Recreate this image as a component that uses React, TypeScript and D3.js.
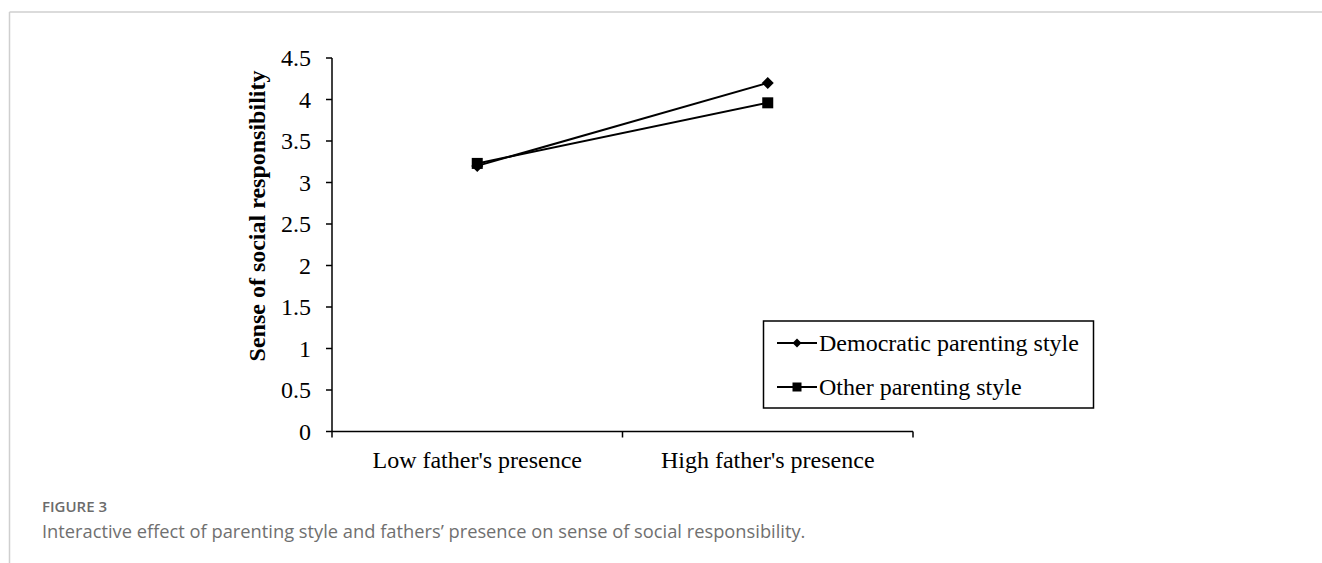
import React from "react";
import * as d3 from "d3";

const categories = ["Low father's presence", "High father's presence"];
const seriesNames = ["Democratic parenting style", "Other parenting style"];
const democraticValues = [3.2, 4.2];
const otherValues = [3.23, 3.96];
const yTicks = [0, 0.5, 1, 1.5, 2, 2.5, 3, 3.5, 4, 4.5];
const yTitle = "Sense of social responsibility";
const figureLabel = "FIGURE 3";
const captionText = "Interactive effect of parenting style and fathers\u2019 presence on sense of social responsibility.";

const W = 1322;
const H = 563;
const serif = "'Liberation Serif', 'Times New Roman', serif";
const sans = "'Open Sans', 'Noto Sans', sans-serif";

export default function App() {
  const x0 = 332;
  const x1 = 913;
  const x = d3.scaleBand<string>().domain(categories).range([x0, x1]);
  const y = d3.scaleLinear().domain([0, 4]).range([431.5, 99.5]);
  const yTop = y(4.5);
  const line = d3
    .line<number>()
    .x((_, i) => (x(categories[i]) as number) + x.bandwidth() / 2)
    .y((v) => y(v));

  const diamond = (cx: number, cy: number, r: number) =>
    `M${cx},${cy - r}L${cx + r},${cy}L${cx},${cy + r}L${cx - r},${cy}Z`;

  const series = [
    { name: seriesNames[0], values: democraticValues, shape: "diamond" },
    { name: seriesNames[1], values: otherValues, shape: "square" },
  ];

  const legend = { x: 763.5, y: 321, w: 330, h: 87 };

  return (
    <svg
      width={W}
      height={H}
      style={{ position: "absolute", left: 0, top: 0, background: "#fff" }}
    >
      {/* frame */}
      <line x1={9.5} y1={12} x2={W} y2={12} stroke="#cfcfcf" strokeWidth={1.5} />
      <line x1={9.5} y1={12} x2={9.5} y2={H} stroke="#cfcfcf" strokeWidth={1.5} />

      {/* y axis */}
      <line x1={x0} y1={yTop} x2={x0} y2={y(0)} stroke="#000" strokeWidth={1.5} />
      {yTicks.map((t) => (
        <g key={t}>
          <line x1={x0 - 6} x2={x0} y1={y(t)} y2={y(t)} stroke="#000" strokeWidth={1.5} />
          <text
            x={x0 - 21}
            y={y(t)}
            dy="0.35em"
            textAnchor="end"
            fontFamily={serif}
            fontSize={24}
            fill="#000"
          >
            {String(t)}
          </text>
        </g>
      ))}
      <text
        transform={`translate(265,216) rotate(-90)`}
        textAnchor="middle"
        fontFamily={serif}
        fontWeight="bold"
        fontSize={24}
        fill="#000"
      >
        {yTitle}
      </text>

      {/* x axis */}
      <line x1={x0} y1={y(0)} x2={x1} y2={y(0)} stroke="#000" strokeWidth={1.5} />
      {[...categories.map((c) => x(c) as number), x1].map((p, i) => (
        <line key={i} x1={p} x2={p} y1={y(0)} y2={y(0) + 6} stroke="#000" strokeWidth={1.5} />
      ))}
      {categories.map((c) => (
        <text
          key={c}
          x={(x(c) as number) + x.bandwidth() / 2}
          y={468}
          textAnchor="middle"
          fontFamily={serif}
          fontSize={24}
          fill="#000"
        >
          {c}
        </text>
      ))}

      {/* series */}
      {series.map((s) => (
        <g key={s.name}>
          <path d={line(s.values) || ""} fill="none" stroke="#000" strokeWidth={2} />
          {s.values.map((v, i) => {
            const cx = (x(categories[i]) as number) + x.bandwidth() / 2;
            const cy = y(v);
            return s.shape === "diamond" ? (
              <path key={i} d={diamond(cx, cy, 6)} fill="#000" />
            ) : (
              <rect key={i} x={cx - 5.5} y={cy - 5.5} width={11} height={11} fill="#000" />
            );
          })}
        </g>
      ))}

      {/* legend */}
      <rect
        x={legend.x}
        y={legend.y}
        width={legend.w}
        height={legend.h}
        fill="#fff"
        stroke="#000"
        strokeWidth={1.5}
      />
      {series.map((s, i) => {
        const cy = 343 + i * 44;
        const lx0 = 777;
        const lx1 = 817;
        const cx = (lx0 + lx1) / 2;
        return (
          <g key={s.name}>
            <line x1={lx0} x2={lx1} y1={cy} y2={cy} stroke="#000" strokeWidth={2} />
            {s.shape === "diamond" ? (
              <path d={diamond(cx, cy, 4.5)} fill="#000" />
            ) : (
              <rect x={cx - 4.5} y={cy - 4.5} width={9} height={9} fill="#000" />
            )}
            <text x={819} y={cy} dy="0.33em" fontFamily={serif} fontSize={24} fill="#000">
              {s.name}
            </text>
          </g>
        );
      })}

      {/* caption */}
      <text x={42} y={512} fontFamily={sans} fontSize={15} fontWeight={600} fill="#6b6b6b">
        {figureLabel}
      </text>
      <text x={42} y={538} fontFamily={sans} fontSize={18.3} fill="#707070">
        {captionText}
      </text>
    </svg>
  );
}
